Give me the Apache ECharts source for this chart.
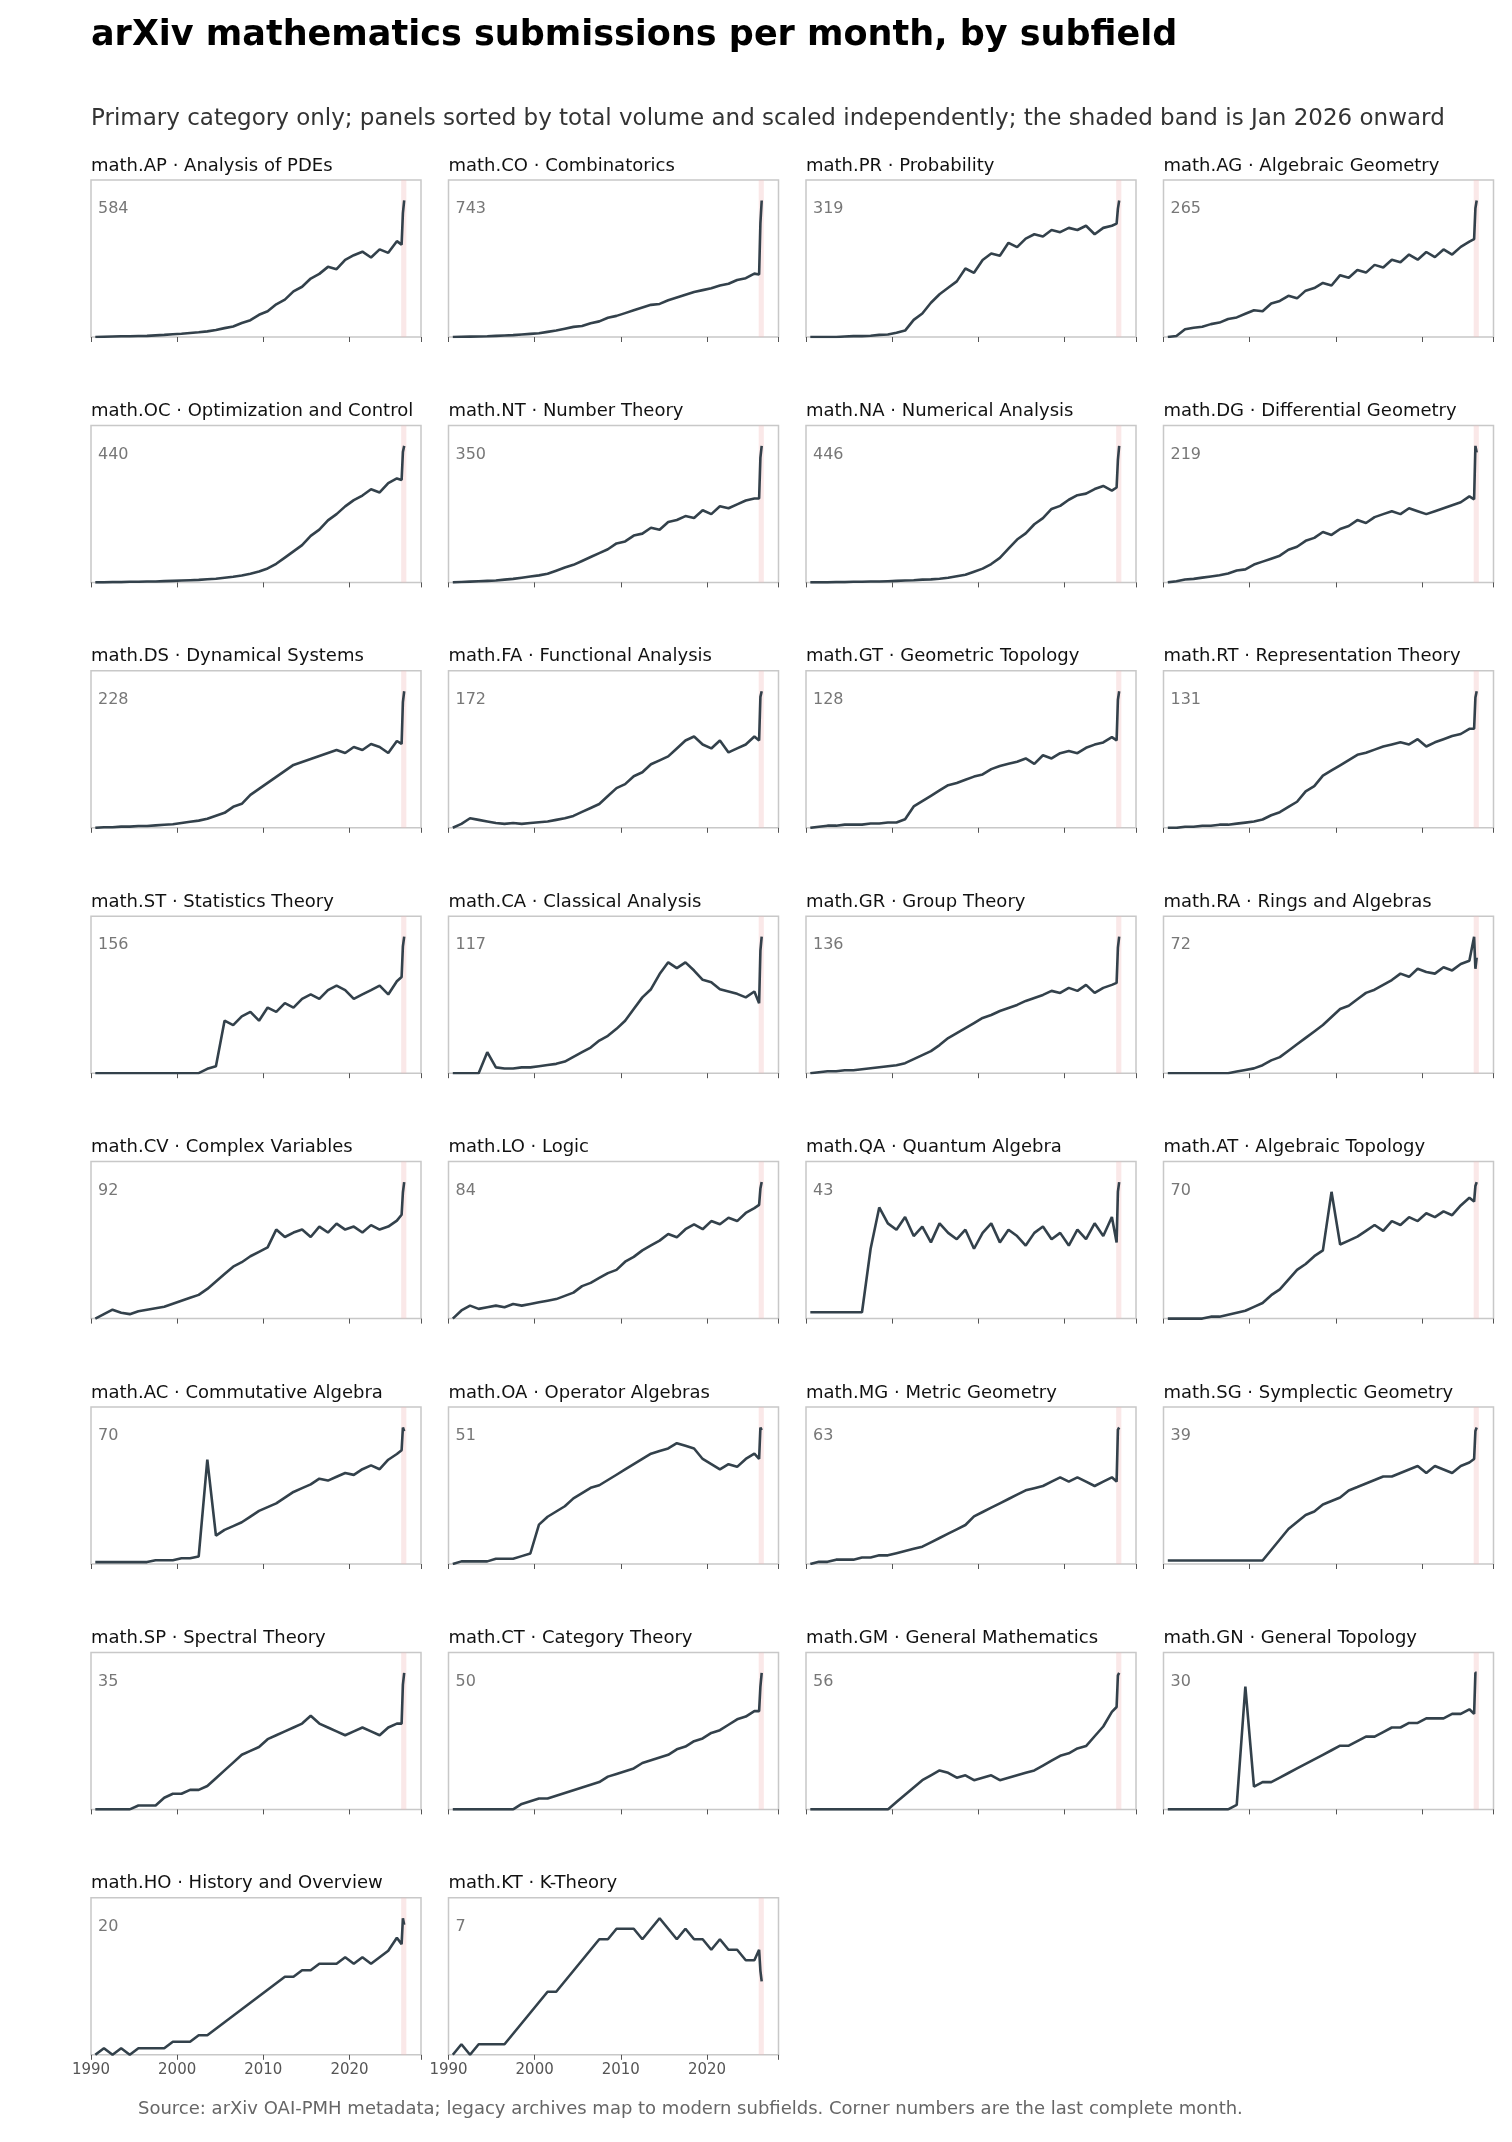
<!DOCTYPE html>
<html><head><meta charset="utf-8">
<script src="https://cdn.jsdelivr.net/npm/echarts@6/dist/echarts.min.js"></script>
<style>html,body{margin:0;padding:0;background:#fff}#c{width:1512px;height:2142px}</style>
</head><body><div id="c"></div>
<script>
// yearly values 1990..2025 (plotted mid-year), then tail points for early 2026
const startYear = 1990;
const tailX = [2026.05, 2026.2, 2026.35];
const codes = ["math.AP","math.CO","math.PR","math.AG","math.OC","math.NT","math.NA","math.DG","math.DS","math.FA","math.GT","math.RT","math.ST","math.CA","math.GR","math.RA","math.CV","math.LO","math.QA","math.AT","math.AC","math.OA","math.MG","math.SG","math.SP","math.CT","math.GM","math.GN","math.HO","math.KT"];
const names = ["Analysis of PDEs","Combinatorics","Probability","Algebraic Geometry","Optimization and Control","Number Theory","Numerical Analysis","Differential Geometry","Dynamical Systems","Functional Analysis","Geometric Topology","Representation Theory","Statistics Theory","Classical Analysis","Group Theory","Rings and Algebras","Complex Variables","Logic","Quantum Algebra","Algebraic Topology","Commutative Algebra","Operator Algebras","Metric Geometry","Symplectic Geometry","Spectral Theory","Category Theory","General Mathematics","General Topology","History and Overview","K-Theory"];
const cornerValues = [584,743,319,265,440,350,446,219,228,172,128,131,156,117,136,72,92,84,43,70,70,51,63,39,35,50,56,30,20,7];
const AP=[0,1,2,3,3,4,5,7,9,12,14,17,20,24,30,38,45,60,72,95,110,140,160,195,215,250,270,300,290,330,350,365,340,375,360,410], AP_t=[395,530,584];
const CO=[0,1,2,3,4,6,8,10,14,17,20,28,35,45,55,60,75,85,105,115,130,145,160,175,180,200,215,230,245,255,265,280,290,310,320,345], CO_t=[340,620,743];
const PR=[0,0,0,0,1,2,2,3,5,6,10,15,40,55,80,100,115,130,160,150,180,195,190,220,210,230,240,235,250,245,255,250,260,240,255,260], PR_t=[265,300,319];
const AG=[0,2,15,18,20,25,28,35,38,45,52,50,65,70,80,75,90,95,105,100,120,115,130,125,140,135,150,145,160,150,165,155,170,160,175,185], AG_t=[190,250,265];
const OC=[0,0,1,1,2,2,3,3,4,5,6,7,8,10,12,15,18,22,28,35,45,60,80,100,120,150,170,200,220,245,265,280,300,290,320,335], OC_t=[330,420,440];
const NT=[0,1,2,3,4,5,7,9,12,15,18,22,30,38,45,55,65,75,85,100,105,120,125,140,135,155,160,170,165,185,175,195,190,200,210,215], NT_t=[215,320,350];
const NA=[0,0,0,1,1,2,2,3,3,4,5,6,7,9,10,12,15,20,25,35,45,60,80,110,140,160,190,210,240,250,270,285,290,305,315,300], NA_t=[310,400,446];
const DG=[0,2,5,6,8,10,12,15,20,22,30,35,40,45,55,60,70,75,85,80,90,95,105,100,110,115,120,115,125,120,115,120,125,130,135,145], DG_t=[140,230,219];
const DS=[0,1,1,2,2,3,3,4,5,6,8,10,12,15,20,25,35,40,55,65,75,85,95,105,110,115,120,125,130,125,135,130,140,135,125,145], DS_t=[140,210,228];
const FA=[0,5,12,10,8,6,5,6,5,6,7,8,10,12,15,20,25,30,40,50,55,65,70,80,85,90,100,110,115,105,100,110,95,100,105,115], FA_t=[110,165,172];
const GT=[0,1,2,2,3,3,3,4,4,5,5,8,20,25,30,35,40,42,45,48,50,55,58,60,62,65,60,68,65,70,72,70,75,78,80,85], GT_t=[82,120,128];
const RT=[0,0,1,1,2,2,3,3,4,5,6,8,12,15,20,25,35,40,50,55,60,65,70,72,75,78,80,82,80,85,78,82,85,88,90,95], RT_t=[95,125,131];
const ST=[0,0,0,0,0,0,0,0,0,0,0,0,0,5,8,60,55,65,70,60,75,70,80,75,85,90,85,95,100,95,85,90,95,100,90,105], ST_t=[110,145,156];
const CA=[0,0,0,0,18,5,4,4,5,5,6,7,8,10,14,18,22,28,32,38,45,55,65,72,85,95,90,95,88,80,78,72,70,68,65,70], CA_t=[60,105,117];
const GR=[0,1,2,2,3,3,4,5,6,7,8,10,14,18,22,28,35,40,45,50,55,58,62,65,68,72,75,78,82,80,85,82,88,80,85,88], GR_t=[90,125,136];
const RA=[0,0,0,0,0,0,0,0,1,2,3,5,8,10,14,18,22,26,30,35,40,42,46,50,52,55,58,62,60,65,63,62,66,64,68,70], RA_t=[85,65,72];
const CV=[0,3,6,4,3,5,6,7,8,10,12,14,16,20,25,30,35,38,42,45,48,60,55,58,60,55,62,58,64,60,62,58,63,60,62,66], CV_t=[70,85,92];
const LO=[0,5,8,6,7,8,7,9,8,9,10,11,12,14,16,20,22,25,28,30,35,38,42,45,48,52,50,55,58,55,60,58,62,60,65,68], LO_t=[70,80,84];
const QA=[2,2,2,2,2,2,2,22,35,30,28,32,26,29,24,30,27,25,28,22,27,30,24,28,26,23,27,29,25,27,23,28,25,30,26,32], QA_t=[24,40,43];
const AT=[0,0,0,0,0,1,1,2,3,4,6,8,12,15,20,25,28,32,35,65,38,40,42,45,48,45,50,48,52,50,54,52,55,53,58,62], AT_t=[60,68,70];
const AC=[1,1,1,1,1,1,1,2,2,2,3,3,4,55,15,18,20,22,25,28,30,32,35,38,40,42,45,44,46,48,47,50,52,50,55,58], AC_t=[60,72,70];
const OA=[0,1,1,1,1,2,2,2,3,4,15,18,20,22,25,27,29,30,32,34,36,38,40,42,43,44,46,45,44,40,38,36,38,37,40,42], OA_t=[40,52,51];
const MG=[0,1,1,2,2,2,3,3,4,4,5,6,7,8,10,12,14,16,18,22,24,26,28,30,32,34,35,36,38,40,38,40,38,36,38,40], MG_t=[38,62,63];
const SG=[1,1,1,1,1,1,1,1,1,1,1,1,4,7,10,12,14,15,17,18,19,21,22,23,24,25,25,26,27,28,26,28,27,26,28,29], SG_t=[30,38,39];
const SP=[0,0,0,0,0,1,1,1,3,4,4,5,5,6,8,10,12,14,15,16,18,19,20,21,22,24,22,21,20,19,20,21,20,19,21,22], SP_t=[22,32,35];
const CT=[0,0,0,0,0,0,0,0,2,3,4,4,5,6,7,8,9,10,12,13,14,15,17,18,19,20,22,23,25,26,28,29,31,33,34,36], CT_t=[36,45,50];
const GM=[0,0,0,0,0,0,0,0,0,0,3,6,9,12,14,16,15,13,14,12,13,14,12,13,14,15,16,18,20,22,23,25,26,30,34,40], GM_t=[42,55,56];
const GN=[0,0,0,0,0,0,0,0,1,27,5,6,6,7,8,9,10,11,12,13,14,14,15,16,16,17,18,18,19,19,20,20,20,21,21,22], GN_t=[21,30,30];
const HO=[0,1,0,1,0,1,1,1,1,2,2,2,3,3,4,5,6,7,8,9,10,11,12,12,13,13,14,14,14,15,14,15,14,15,16,18], HO_t=[17,21,20];
const KT=[0,1,0,1,1,1,1,2,3,4,5,6,6,7,8,9,10,11,11,12,12,12,11,12,13,12,11,12,11,11,10,11,10,10,9,9], KT_t=[10,8,7];
const series = [[AP,AP_t],[CO,CO_t],[PR,PR_t],[AG,AG_t],[OC,OC_t],[NT,NT_t],[NA,NA_t],[DG,DG_t],[DS,DS_t],[FA,FA_t],[GT,GT_t],[RT,RT_t],[ST,ST_t],[CA,CA_t],[GR,GR_t],[RA,RA_t],[CV,CV_t],[LO,LO_t],[QA,QA_t],[AT,AT_t],[AC,AC_t],[OA,OA_t],[MG,MG_t],[SG,SG_t],[SP,SP_t],[CT,CT_t],[GM,GM_t],[GN,GN_t],[HO,HO_t],[KT,KT_t]];
const xTicks = [1990,2000,2010,2020];

const chart = echarts.init(document.getElementById('c'));
const F = 'DejaVu Sans';
const grids=[], xs=[], ys=[], ss=[], gr=[];
gr.push({type:'text',left:91,top:18,style:{text:'arXiv mathematics submissions per month, by subfield',font:'bold 35px "DejaVu Sans"',fill:'#000'}});
gr.push({type:'text',left:91,top:108,style:{text:'Primary category only; panels sorted by total volume and scaled independently; the shaded band is Jan 2026 onward',font:'23px "DejaVu Sans"',fill:'#333'}});
gr.push({type:'text',left:138,top:2100,style:{text:'Source: arXiv OAI-PMH metadata; legacy archives map to modern subfields. Corner numbers are the last complete month.',font:'18px "DejaVu Sans"',fill:'#666'}});
series.forEach((s,i)=>{
  const c=i%4, r=Math.floor(i/4);
  const left=91+c*357.5, top=180+r*245.4;
  grids.push({left:left,top:top,width:330,height:157,show:true,borderColor:'#c8c8c8',borderWidth:1.5,backgroundColor:'#fff'});
  const last = (i>=28);
  xs.push({type:'value',gridIndex:i,min:1990,max:2028.3,interval:10,
    axisLine:{show:false},splitLine:{show:false},
    axisTick:{show:true,length:5,lineStyle:{color:'#555'}},
    axisLabel:{show:last,color:'#555',fontSize:15,fontFamily:F,margin:8,formatter:v=>xTicks.includes(v)?String(v):''}});
  const data=[];
  s[0].forEach((v,k)=>data.push([startYear+k+0.5,v]));
  s[1].forEach((v,k)=>data.push([tailX[k],v]));
  const mx=Math.max(...data.map(d=>d[1]));
  ys.push({type:'value',gridIndex:i,min:0,max:mx*1.15,show:false,splitLine:{show:false}});
  ss.push({type:'line',xAxisIndex:i,yAxisIndex:i,data:data,showSymbol:false,
    lineStyle:{color:'#33414b',width:2.6},itemStyle:{color:'#33414b'},
    markArea:{silent:true,itemStyle:{color:'rgba(240,190,190,0.35)'},data:[[{xAxis:2026},{xAxis:2026.6}]]}});
  gr.push({type:'text',left:left,top:top-23,style:{text:codes[i]+' · '+names[i],font:'18px "DejaVu Sans"',fill:'#111'}});
  gr.push({type:'text',left:left+7,top:top+21,style:{text:String(cornerValues[i]),font:'16px "DejaVu Sans"',fill:'#777'}});
});
chart.setOption({animation:false,grid:grids,xAxis:xs,yAxis:ys,series:ss,graphic:gr});
</script></body></html>
